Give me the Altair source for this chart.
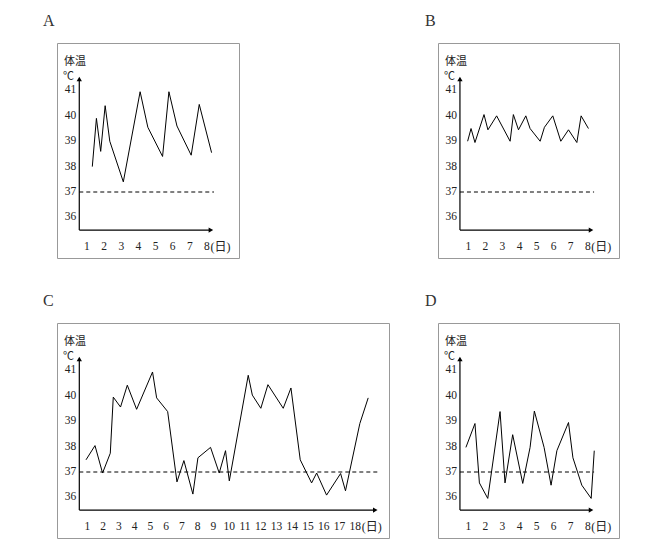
import altair as alt
import pandas as pd

# ---- data ----
A_DAY = [1.31, 1.55, 1.80, 2.06, 2.33, 3.12, 4.10, 4.55, 5.41, 5.78, 6.25, 7.08, 7.55, 8.27]
A_TEMP = [38.0, 39.9, 38.6, 40.4, 39.0, 37.4, 40.95, 39.55, 38.4, 40.95, 39.6, 38.45, 40.45, 38.55]

B_DAY = [0.96, 1.16, 1.39, 1.92, 2.15, 2.66, 3.45, 3.64, 3.94, 4.37, 4.62, 5.21, 5.46, 5.95,
         6.42, 6.87, 7.36, 7.61, 8.04]
B_TEMP = [39.0, 39.5, 38.95, 40.05, 39.45, 40.0, 39.0, 40.05, 39.45, 40.0, 39.5, 39.0, 39.55,
          40.0, 39.0, 39.45, 38.95, 40.0, 39.5]

C_DAY = [0.92, 1.49, 1.97, 2.46, 2.65, 3.11, 3.54, 4.13, 5.14, 5.40, 6.10, 6.69, 7.13, 7.70,
         8.02, 8.82, 9.37, 9.77, 10.01, 11.21, 11.47, 12.01, 12.46, 13.43, 13.92, 14.51,
         15.23, 15.55, 16.18, 17.07, 17.38, 18.29, 18.82]
C_TEMP = [37.48, 38.04, 36.96, 37.74, 39.95, 39.56, 40.42, 39.47, 40.94, 39.92, 39.38, 36.61,
          37.45, 36.13, 37.56, 37.97, 36.96, 37.84, 36.65, 40.81, 40.03, 39.51, 40.44, 39.51,
          40.31, 37.48, 36.57, 36.96, 36.09, 36.94, 36.26, 38.91, 39.92]

D_DAY = [0.86, 1.39, 1.65, 2.14, 2.86, 3.15, 3.60, 4.19, 4.62, 4.87, 5.44, 5.85, 6.19, 6.87,
         7.13, 7.65, 8.20, 8.38]
D_TEMP = [37.97, 38.91, 36.57, 35.96, 39.38, 36.57, 38.47, 36.55, 37.97, 39.40, 37.97, 36.48,
          37.84, 38.95, 37.56, 36.48, 35.96, 37.84]

Y_TICKS = [36, 37, 38, 39, 40, 41]
X_TICKS_8 = [1, 2, 3, 4, 5, 6, 7, 8]
X_TICKS_18 = list(range(1, 19))
NORMAL_TEMP = 37
Y_LABEL = "体温"
Y_UNIT = "℃"
X_UNIT = "(日)"

Y_DOMAIN = [34.4, 42.87]
AXIS_Y0 = 35.5
AXIS_YTOP = 41.45
LABEL_Y = 34.84

SERIF = "Liberation Serif, DejaVu Serif, Noto Sans CJK SC"
CJK = "Noto Sans CJK SC"
TXT = "#222222"


def panel(letter, days, temps, ticks, width, xdom, x0, x1, letter_x):
    xs = alt.Scale(domain=xdom, nice=False, zero=False)
    ys = alt.Scale(domain=Y_DOMAIN, nice=False, zero=False)

    def X(f):
        return alt.X(f, type="quantitative", scale=xs, axis=None)

    def Y(f):
        return alt.Y(f, type="quantitative", scale=ys, axis=None)

    line = alt.Chart(pd.DataFrame({"day": days, "temp": temps})).mark_line(
        color="black", strokeWidth=1
    ).encode(x=X("day"), y=Y("temp"))

    axes = alt.Chart(pd.DataFrame({
        "xa": [x0, x0], "xb": [x0, x1 - 0.2],
        "ya": [AXIS_Y0, AXIS_Y0], "yb": [AXIS_YTOP, AXIS_Y0],
    })).mark_rule(color="black", strokeWidth=1.2).encode(
        x=X("xa"), x2="xb", y=Y("ya"), y2="yb"
    )

    dashed = alt.Chart(pd.DataFrame({"xa": [x0], "xb": [x1], "y": [NORMAL_TEMP]})).mark_rule(
        color="black", strokeWidth=1, strokeDash=[4, 3]
    ).encode(x=X("xa"), x2="xb", y=Y("y"))

    arrows = alt.Chart(pd.DataFrame({
        "x": [x0, x1 - 0.18], "y": [AXIS_YTOP, AXIS_Y0],
        "shape": ["triangle-up", "triangle-right"],
    })).mark_point(filled=True, color="black", size=28, opacity=1).encode(
        x=X("x"), y=Y("y"), shape=alt.Shape("shape:N", scale=None)
    )

    ylab = alt.Chart(pd.DataFrame({"v": Y_TICKS, "x": [x0] * len(Y_TICKS)})).mark_text(
        align="right", baseline="middle", dx=-3, font=SERIF, fontSize=11.5, color=TXT
    ).encode(x=X("x"), y=Y("v"), text="v:N")

    xlab = alt.Chart(pd.DataFrame({"d": ticks, "y": [LABEL_Y] * len(ticks)})).mark_text(
        align="center", baseline="middle", font=SERIF, fontSize=11.5, color=TXT
    ).encode(x=X("d"), y=Y("y"), text="d:N")

    unit_dx = 3.5 if ticks[-1] < 10 else 6.5
    unit_x = alt.Chart(pd.DataFrame({"d": [ticks[-1]], "y": [LABEL_Y], "t": [X_UNIT]})).mark_text(
        align="left", baseline="middle", dx=unit_dx, font=SERIF, fontSize=12, color=TXT
    ).encode(x=X("d"), y=Y("y"), text="t:N")

    ylabel = alt.Chart(pd.DataFrame({"t": [Y_LABEL]})).mark_text(
        align="left", baseline="middle", font=CJK, fontSize=11, color=TXT
    ).encode(x=alt.value(7), y=alt.value(19), text="t:N")

    yunit = alt.Chart(pd.DataFrame({"t": [Y_UNIT]})).mark_text(
        align="left", baseline="middle", font=CJK, fontSize=11, color=TXT
    ).encode(x=alt.value(6), y=alt.value(34), text="t:N")

    title = alt.Chart(pd.DataFrame({"t": [letter]})).mark_text(
        align="left", baseline="alphabetic", font=SERIF, fontSize=16, color="#333333"
    ).encode(x=alt.value(letter_x), y=alt.value(-17), text="t:N")

    return alt.layer(
        dashed, axes, arrows, line, ylab, xlab, unit_x, ylabel, yunit, title
    ).properties(width=width, height=215)


pA = panel("A", A_DAY, A_TEMP, X_TICKS_8, 182, [-0.75, 9.87], 0.55, 8.41, -14)
pB = panel("B", B_DAY, B_TEMP, X_TICKS_8, 181, [-0.776, 9.83], 0.51, 8.37, -13)
pC = panel("C", C_DAY, C_TEMP, X_TICKS_18, 332, [-0.92, 20.14], 0.495, 19.45, -14)
pD = panel("D", D_DAY, D_TEMP, X_TICKS_8, 181, [-0.776, 9.83], 0.51, 8.37, -13)

row1 = alt.hconcat(pA, pB, spacing=199, bounds="flush")
row2 = alt.hconcat(pC, pD, spacing=49, bounds="flush")

chart = alt.vconcat(row1, row2, spacing=33).properties(
    padding={"left": 34, "top": 4, "right": 5, "bottom": 5},
    background="white",
).configure_view(stroke="#999999", strokeWidth=1)

chart.save("out.html", embed_options={"renderer": "svg", "actions": False})
